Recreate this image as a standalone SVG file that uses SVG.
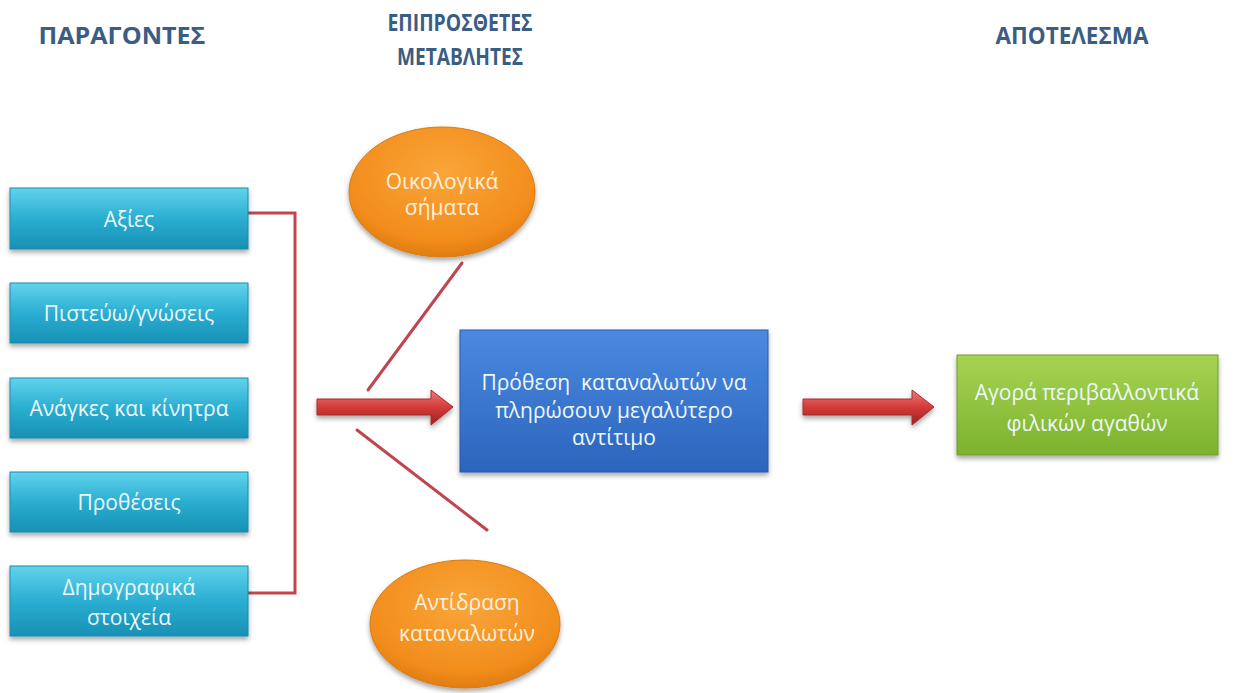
<svg xmlns="http://www.w3.org/2000/svg" width="1240" height="693" viewBox="0 0 1240 693">
<style>
.hdr{font-family:"Open Sans","Noto Sans",sans-serif;font-weight:bold;font-size:24px;fill:#3a5d85;text-anchor:middle}
.lbl{font-family:"Open Sans","Noto Sans",sans-serif;font-size:21px;fill:#eef7fb;text-anchor:middle}
.olbl{font-family:"Open Sans","Noto Sans",sans-serif;font-size:21px;fill:#fdf0dc;text-anchor:middle}
.cyan{fill:url(#gCyan);stroke:#1a8db0;stroke-width:1;filter:url(#sh)}
.line{stroke:#c0454f;stroke-width:3;fill:none;stroke-linecap:round}
</style>
<defs>
<linearGradient id="gCyan" x1="0" y1="0" x2="0" y2="1">
<stop offset="0" stop-color="#62d3ec"/><stop offset="0.5" stop-color="#2aaed1"/><stop offset="1" stop-color="#1890b5"/>
</linearGradient>
<linearGradient id="gBlue" x1="0" y1="0" x2="0" y2="1">
<stop offset="0" stop-color="#4a8ae0"/><stop offset="1" stop-color="#2c64bc"/>
</linearGradient>
<linearGradient id="gGreen" x1="0" y1="0" x2="0" y2="1">
<stop offset="0" stop-color="#a6d452"/><stop offset="1" stop-color="#7cb22e"/>
</linearGradient>
<radialGradient id="gOrange" cx="0.5" cy="0.35" r="0.65">
<stop offset="0" stop-color="#f9a53a"/><stop offset="0.8" stop-color="#f28d1c"/><stop offset="1" stop-color="#e07d10"/>
</radialGradient>
<linearGradient id="gArrow" x1="0" y1="0" x2="0" y2="1">
<stop offset="0" stop-color="#e97a7a"/><stop offset="0.5" stop-color="#d43a3a"/><stop offset="1" stop-color="#9c2020"/>
</linearGradient>
<filter id="sh" x="-10%" y="-20%" width="120%" height="150%">
<feDropShadow dx="0" dy="3" stdDeviation="2.5" flood-color="#000" flood-opacity="0.35"/>
</filter>
</defs>
<rect width="1240" height="693" fill="#ffffff"/>

<g id="headers">
<text class="hdr" x="122" y="44" textLength="167" lengthAdjust="spacingAndGlyphs">ΠΑΡΑΓΟΝΤΕΣ</text>
<text class="hdr" x="460" y="31" textLength="145" lengthAdjust="spacingAndGlyphs">ΕΠΙΠΡΟΣΘΕΤΕΣ</text>
<text class="hdr" x="460" y="65" textLength="126" lengthAdjust="spacingAndGlyphs">ΜΕΤΑΒΛΗΤΕΣ</text>
<text class="hdr" x="1072" y="44" textLength="153" lengthAdjust="spacingAndGlyphs">ΑΠΟΤΕΛΕΣΜΑ</text>
</g>

<g id="connectors">
<path class="line" d="M248,213 H295 V593 H248"/>
<line class="line" x1="368" y1="390" x2="462" y2="263"/>
<line class="line" x1="357" y1="430" x2="487" y2="530"/>
<path d="M317,399 H431 V390 L453,407 L431,425 V415 H317 Z" fill="url(#gArrow)" stroke="#a82a2a" stroke-width="1" filter="url(#sh)"/>
<path d="M803,399 H912 V390 L934,407 L912,425 V415 H803 Z" fill="url(#gArrow)" stroke="#a82a2a" stroke-width="1" filter="url(#sh)"/>
</g>

<g id="n-axies"><rect class="cyan" x="10" y="188" width="238" height="61"/><text class="lbl" x="129" y="227">Αξίες</text></g>
<g id="n-pisteuo"><rect class="cyan" x="10" y="283" width="238" height="60"/><text class="lbl" x="129" y="321">Πιστεύω/γνώσεις</text></g>
<g id="n-anagkes"><rect class="cyan" x="10" y="378" width="238" height="60"/><text class="lbl" x="129" y="416">Ανάγκες και κίνητρα</text></g>
<g id="n-protheseis"><rect class="cyan" x="10" y="472" width="238" height="60"/><text class="lbl" x="129" y="510">Προθέσεις</text></g>
<g id="n-dimografika"><rect class="cyan" x="10" y="566" width="238" height="70"/><text class="lbl" x="129" y="595">Δημογραφικά</text><text class="lbl" x="129" y="625">στοιχεία</text></g>

<g id="n-oikologika"><ellipse cx="442" cy="192" rx="93" ry="65" fill="url(#gOrange)" stroke="#d97a14" stroke-width="1" filter="url(#sh)"/><text class="olbl" x="442" y="189">Οικολογικά</text><text class="olbl" x="442" y="215">σήματα</text></g>
<g id="n-antidrasi"><ellipse cx="465" cy="624" rx="95" ry="64" fill="url(#gOrange)" stroke="#d97a14" stroke-width="1" filter="url(#sh)"/><text class="olbl" x="467" y="610">Αντίδραση</text><text class="olbl" x="467" y="641">καταναλωτών</text></g>

<g id="n-prothesi"><rect x="460" y="330" width="308" height="142" fill="url(#gBlue)" stroke="#2a5aa8" stroke-width="1" filter="url(#sh)"/>
<text class="lbl" x="614" y="390" xml:space="preserve">Πρόθεση  καταναλωτών να</text><text class="lbl" x="614" y="418">πληρώσουν μεγαλύτερο</text><text class="lbl" x="614" y="445">αντίτιμο</text></g>

<g id="n-agora"><rect x="957" y="355" width="261" height="100" fill="url(#gGreen)" stroke="#6e9e28" stroke-width="1" filter="url(#sh)"/>
<text class="lbl" x="1087" y="400">Αγορά περιβαλλοντικά</text><text class="lbl" x="1087" y="431">φιλικών αγαθών</text></g>
</svg>
